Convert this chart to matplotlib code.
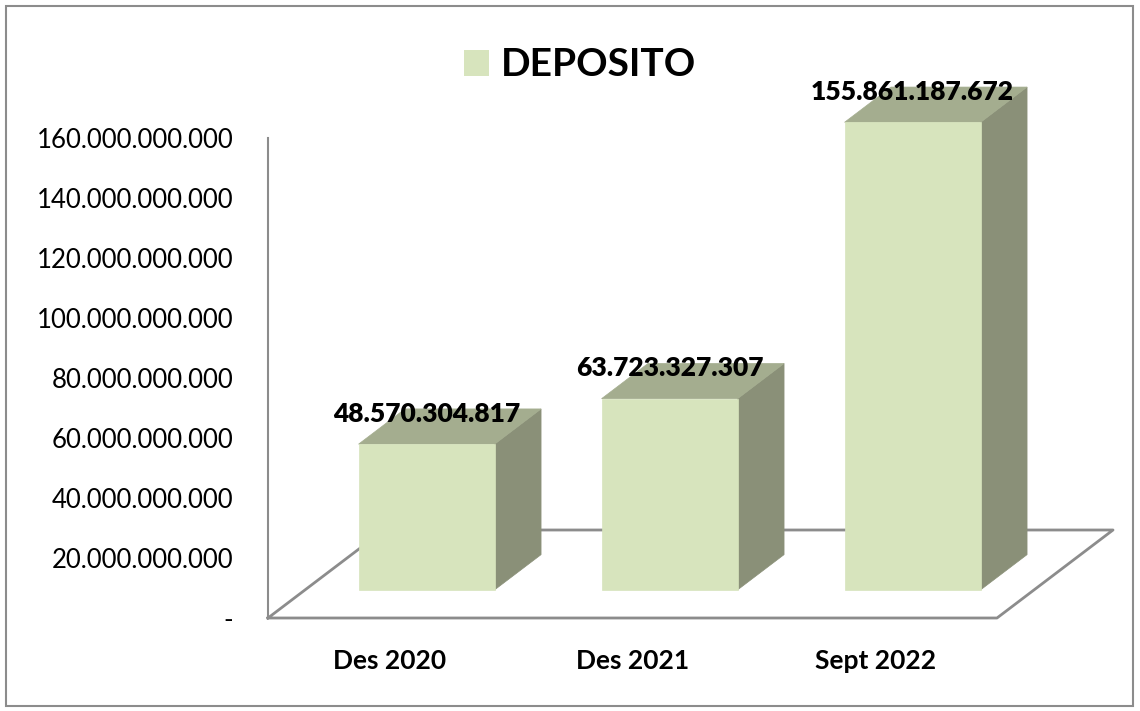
import matplotlib.pyplot as plt
from matplotlib.patches import Polygon, Patch, Rectangle
from matplotlib.ticker import FuncFormatter

# chart data
categories = ["Des 2020", "Des 2021", "Sept 2022"]
deposito = [48570304817, 63723327307, 155861187672]
yticks = [0, 20e9, 40e9, 60e9, 80e9, 100e9, 120e9, 140e9, 160e9]
series_name = "DEPOSITO"

# colours
FRONT = "#D7E4BD"
SIDE = "#8A9078"
TOP = "#A4AD8F"
GRID = "#8C8C8C"

plt.rcParams["font.family"] = ["Lato", "DejaVu Sans"]

W, H = 1140, 711
fig = plt.figure(figsize=(W / 100, H / 100), dpi=100)
ax = fig.add_axes([268 / W, (H - 618) / H, 729 / W, 480 / H])
ax.set_xlim(-0.5, 2.5)
ax.set_ylim(0, 160e9)

# 3d depth: full floor depth offset in data units
DX = 116 / 243
DY = 88 / 3 * 1e9
D0, D1 = 0.32, 0.72   # bar front / back depth
HALF = 0.28           # half bar width


def proj(x, v, d):
    return (x + d * DX, v + d * DY)


# floor outline
x0, x1 = -0.5, 2.5
floor = [proj(x0, 0, 0), proj(x1, 0, 0), proj(x1, 0, 1), proj(x0, 0, 1), proj(x0, 0, 0)]
ax.plot([p[0] for p in floor], [p[1] for p in floor], color=GRID, lw=2, clip_on=False, zorder=1)

for i, v in enumerate(deposito):
    l, r = i - HALF, i + HALF
    front = [proj(l, 0, D0), proj(r, 0, D0), proj(r, v, D0), proj(l, v, D0)]
    side = [proj(r, 0, D0), proj(r, 0, D1), proj(r, v, D1), proj(r, v, D0)]
    top = [proj(l, v, D0), proj(r, v, D0), proj(r, v, D1), proj(l, v, D1)]
    for pts, c in [(side, SIDE), (top, TOP), (front, FRONT)]:
        ax.add_patch(Polygon(pts, closed=True, facecolor=c, edgecolor=c, lw=0.5,
                             clip_on=False, zorder=2))
    lx, ly = proj(i, v, D0)
    ax.annotate(f"{v:,.0f}".replace(",", "."), (lx, ly), xytext=(0, 22),
                textcoords="offset points", ha="center", va="center",
                fontsize=19, fontweight="heavy", color="black", zorder=5,
                annotation_clip=False)

# axes styling
for s in ["top", "right", "bottom"]:
    ax.spines[s].set_visible(False)
ax.spines["left"].set_color(GRID)
ax.spines["left"].set_linewidth(1.5)
ax.set_facecolor("none")

ax.set_yticks(yticks)
ax.yaxis.set_major_formatter(FuncFormatter(
    lambda v, p: "-" if v == 0 else f"{v:,.0f}".replace(",", ".")))
ax.tick_params(axis="y", length=0, pad=25, labelsize=18.5)
ax.set_xticks(range(len(categories)))
ax.set_xticklabels(categories, fontweight="bold")
ax.tick_params(axis="x", length=0, pad=22, labelsize=19)

# legend as title
fig.legend(handles=[Patch(facecolor=FRONT, edgecolor="none", label=series_name)],
           loc="center", bbox_to_anchor=(580 / W, 1 - 65 / H), frameon=False,
           prop={"weight": "bold", "size": 28}, handlelength=0.64, handleheight=0.64,
           handletextpad=0.3, borderpad=0)

# outer chart border
fig.add_artist(Rectangle((6 / W, 5 / H), 1127 / W, 700 / H, transform=fig.transFigure,
                         fill=False, edgecolor=GRID, lw=1.5))

fig.savefig("out.png", dpi=100)
